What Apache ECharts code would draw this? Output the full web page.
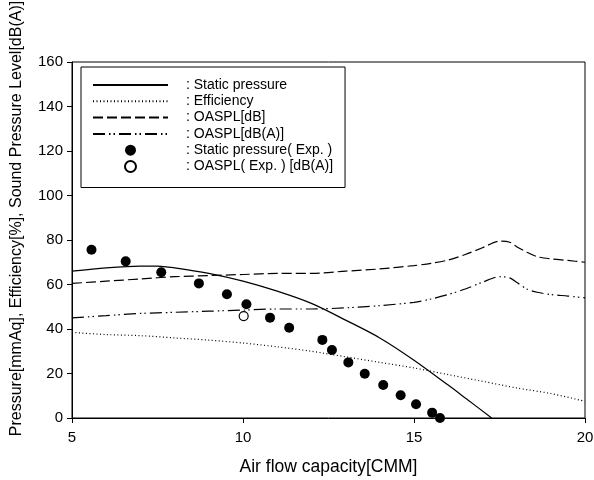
<!DOCTYPE html>
<html>
<head>
<meta charset="utf-8">
<script src="https://cdn.jsdelivr.net/npm/echarts@6/dist/echarts.min.js"></script>
<style>
  html, body { margin: 0; padding: 0; background: #fff; }
  #chart { width: 594px; height: 480px; }
</style>
</head>
<body>
<div id="chart"></div>
<script>
// curves, [air flow CMM, value]
const staticPressure = [[5, 66], [6, 67.5], [7, 68.3], [7.5, 68.3], [8, 67.5], [9, 65], [10, 61.5], [11, 57],
  [12, 51.5], [13, 44], [14, 36], [15, 26], [16, 14.8], [16.5, 9], [17.27, 0]]
const efficiency = [[5, 38.5], [6, 37.5], [7, 37], [8, 36], [9, 35], [10, 33.7], [11, 32], [12, 30],
  [13, 27.5], [14, 25], [15, 22.5], [16, 19.5], [17, 16.5], [18, 13.5], [19, 11], [20, 7.5]]
const oasplDb = [[5, 60.5], [6, 61.5], [7, 62.5], [8, 63.5], [9, 64], [10, 64.5], [11, 65], [12, 65],
  [13, 66], [14, 67], [15, 68.5], [15.5, 69.5], [16, 71], [16.5, 73.5], [17, 76.5], [17.5, 79.5],
  [17.8, 79], [18, 77], [18.3, 74.5], [18.6, 72.5], [19, 71.5], [19.5, 70.8], [20, 70]]
const oasplDbA = [[5, 45], [6, 46], [7, 47], [8, 47.5], [9, 48], [10, 48.5], [11, 49], [12, 49],
  [13, 49.5], [14, 50.5], [15, 52], [15.5, 53.5], [16, 55.5], [16.5, 58], [17, 61], [17.5, 63.5],
  [17.8, 63], [18, 61], [18.3, 58], [18.6, 56.5], [19, 55.5], [19.5, 54.8], [20, 54]]
// experiment points
const staticPressureExp = [[5.57, 75.6], [6.57, 70.4], [7.61, 65.5], [8.71, 60.5], [9.53, 55.6], [10.1, 51.1],
  [10.79, 45.1], [11.35, 40.6], [12.32, 35.1], [12.6, 30.6], [13.08, 25], [13.56, 19.9], [14.1, 14.8],
  [14.61, 10.2], [15.06, 6.2], [15.53, 2.4], [15.76, 0]]
const oasplExp = [[10.02, 45.8]]

const xTicks = [5, 10, 15, 20]
const yTicks = [0, 20, 40, 60, 80, 100, 120, 140, 160]

const font = 'Liberation Sans, Arial, sans-serif'
const chart = echarts.init(document.getElementById('chart'))

function curve(name, data, type) {
  return {
    name: name,
    type: 'line',
    data: data,
    smooth: 0.3,
    symbol: 'none',
    lineStyle: { color: '#000', width: 1.2, type: type },
    itemStyle: { color: '#000' },
    z: 2
  }
}

// line entries in the legend show only the line, no marker
const noMarker = name => ({ name: name, itemStyle: { opacity: 0 } })

chart.setOption({
  animation: false,
  grid: {
    left: 72,
    right: 9,
    top: 62,
    bottom: 62,
    outerBoundsMode: 'none',
    containLabel: false,
    show: true,
    borderColor: '#000',
    borderWidth: 1
  },
  legend: {
    orient: 'vertical',
    left: 81,
    top: 67,
    padding: [11, 12, 14, 11],
    borderColor: '#000',
    borderWidth: 1,
    itemWidth: 75,
    itemHeight: 11,
    itemGap: 2.3,
    formatter: name => ': ' + name,
    textStyle: { fontFamily: font, fontSize: 14, lineHeight: 14, color: '#000', padding: [0, 0, 0, 13] },
    data: [noMarker('Static pressure'), noMarker('Efficiency'), noMarker('OASPL[dB]'), noMarker('OASPL[dB(A)]'),
      'Static pressure( Exp. )', 'OASPL( Exp. ) [dB(A)]']
  },
  xAxis: {
    type: 'value',
    min: 5,
    max: 20,
    interval: 5,
    name: 'Air flow capacity[CMM]',
    nameLocation: 'middle',
    nameGap: 40,
    nameTextStyle: { fontFamily: font, fontSize: 17.5, color: '#000' },
    axisLine: { lineStyle: { color: '#000', width: 1 } },
    axisTick: { length: 5, lineStyle: { color: '#000' } },
    axisLabel: { fontFamily: font, fontSize: 15, color: '#000', margin: 12,
      formatter: v => xTicks.includes(v) ? String(v) : '' },
    splitLine: { show: false }
  },
  yAxis: {
    type: 'value',
    min: 0,
    max: 160,
    interval: 20,
    name: 'Pressure[mmAq], Efficiency[%], Sound Pressure Level[dB(A)]',
    nameLocation: 'middle',
    nameGap: 47,
    nameTextStyle: { fontFamily: font, fontSize: 16, color: '#000', padding: [0, 0, 0, 43] },
    axisLine: { show: true, lineStyle: { color: '#000', width: 1 } },
    axisTick: { show: true, length: 5, lineStyle: { color: '#000' } },
    axisLabel: { fontFamily: font, fontSize: 15, color: '#000', margin: 9,
      formatter: v => yTicks.includes(v) ? String(v) : '' },
    splitLine: { show: false }
  },
  series: [
    curve('Static pressure', staticPressure, 'solid'),
    curve('Efficiency', efficiency, [1, 2.5]),
    curve('OASPL[dB]', oasplDb, [10, 4]),
    curve('OASPL[dB(A)]', oasplDbA, [12, 4, 1.5, 3, 1.5, 4]),
    {
      name: 'Static pressure( Exp. )',
      type: 'scatter',
      data: staticPressureExp,
      symbol: 'circle',
      symbolSize: 10,
      itemStyle: { color: '#000', opacity: 1 },
      clip: false,
      z: 3
    },
    {
      name: 'OASPL( Exp. ) [dB(A)]',
      type: 'scatter',
      data: oasplExp,
      symbol: 'circle',
      symbolSize: 9,
      itemStyle: { color: '#fff', borderColor: '#000', borderWidth: 1.2, opacity: 1 },
      z: 3
    }
  ]
})
</script>
</body>
</html>
